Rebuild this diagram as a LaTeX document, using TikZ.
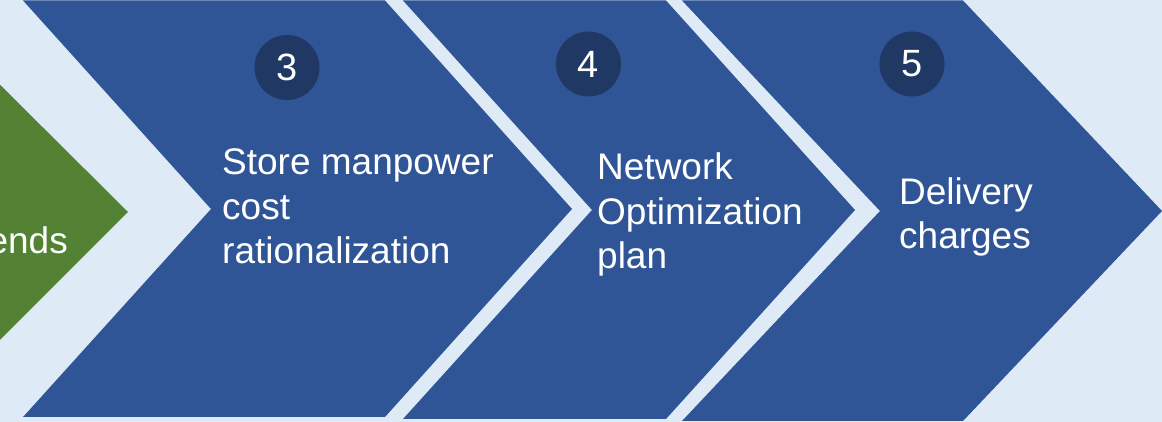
\documentclass[tikz,border=0pt]{standalone}
\usepackage{fontspec}
\setmainfont{Liberation Sans}
\usepackage{tikz}
\usetikzlibrary{positioning}
\definecolor{bgblue}{HTML}{DEEBF7}
\definecolor{stepblue}{HTML}{2F5597}
\definecolor{numblue}{HTML}{203864}
\definecolor{stepgreen}{HTML}{548235}
\tikzset{
  chev/.style={fill=#1, draw=none},
  chev/.default={stepblue},
  num/.style={circle, fill=numblue, text=white, minimum size=65pt, inner sep=0pt,
              font=\fontsize{38}{40}\selectfont},
  lbl/.style={text=white, align=left, inner sep=0pt, anchor=base west,
              font=\fontsize{37}{44.5}\selectfont},
}

\begin{document}
\begin{tikzpicture}[x=1pt,y=1pt]
\fill[bgblue] (0,0) rectangle (1162,422);
\clip (0,0) rectangle (1162,422);
\path[chev=stepgreen] (-40,377) -- (128,210) -- (-40,42) -- cycle;
\path[chev] (23,421.5) -- (385,421.5) -- (572,213) -- (385,5) -- (23,5) -- (211,213) -- cycle;
\path[chev] (403,421.5) -- (666,421.5) -- (855,212) -- (666,3) -- (403,3) -- (592,212) -- cycle;
\path[chev] (682,421.5) -- (963,421.5) -- (1162,211) -- (963,1) -- (682,1) -- (880,211) -- cycle;
\node[num] (n3) at (287,354.5) {3};
\node[num] (n4) at (588.5,358) {4};
\node[num] (n5) at (912,358) {5};
% base sits on the last line of each label
\node[lbl] (s3) at (222,158) {Store manpower\\cost\\rationalization};
\node[lbl] (s4) at (597,153) {Network\\Optimization\\plan};
\node[lbl] (s5) at (899,173) {Delivery\\charges};
\node[lbl, anchor=base east] (s2) at (68,168) {ends};
\end{tikzpicture}
\end{document}
